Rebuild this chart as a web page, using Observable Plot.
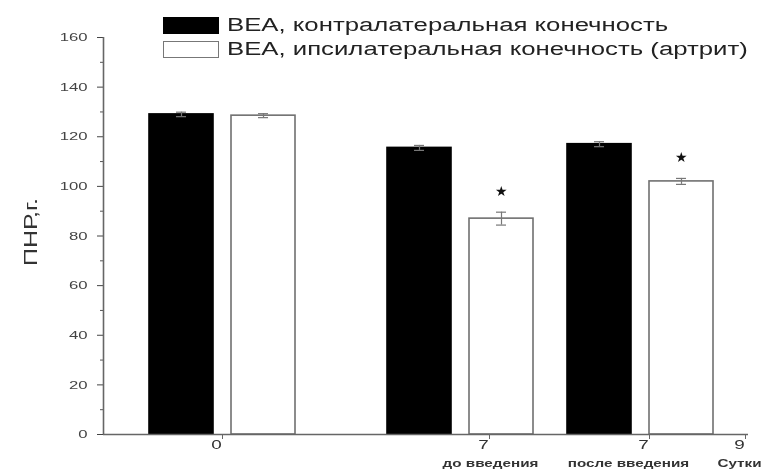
<!DOCTYPE html>
<html>
<head>
<meta charset="utf-8">
<script src="https://cdn.jsdelivr.net/npm/d3@7"></script>
<script src="https://cdn.jsdelivr.net/npm/@observablehq/plot@0.6"></script>
<style>
  html, body { margin: 0; padding: 0; background: #fff; }
  #wrap { position: relative; width: 764px; height: 472px; font-family: "Liberation Sans", Arial, sans-serif; filter: blur(0.35px); }
  #legend { position: absolute; left: 163px; top: 13px; font-size: 18px; color: #222; line-height: 24px; }
  #legend .row { display: flex; align-items: center; white-space: nowrap; height: 24px; }
  #legend .sw { width: 56px; height: 17px; margin-right: 8px; box-sizing: border-box; flex: none; }
  #legend span { display: inline-block; transform: scaleX(1.43); transform-origin: left center; }
  svg { font-family: "Liberation Sans", Arial, sans-serif; }
</style>
</head>
<body>
<div id="wrap">
  <div id="chart"></div>
  <div id="legend"></div>
</div>
<script>
// Series: paw withdrawal threshold (ПНР, g) by time point
const groups = ["0", "7 до введения", "7 после введения"];
const series = ["BEA, контралатеральная конечность", "BEA, ипсилатеральная конечность (артрит)"];
const contra = [129, 115.5, 117];
const contraErr = [0.9, 1, 1];
const ipsi = [128.5, 87, 102];
const ipsiErr = [0.8, 2.6, 1.2];
const significant = [false, true, true];

// x-axis tick labels and the captions printed under them
const tickLabels = ["0", "7", "7", "9"];
const subLabels = ["до введения", "после введения", "Сутки"];
const yLabel = "ПНР,г.";

// layout of the abscissa (axis units)
const groupAt = [1.19, 3.57, 5.37];
const tickAt = [1.19, 3.86, 5.46, 6.42];
const subAt = [3.87, 5.25, 6.36];
const barHalf = 0.32, barOffset = 0.41, capHalf = 0.05;

const bars = [];
groups.forEach((g, i) => {
  bars.push({group: g, series: series[0], x: groupAt[i] - barOffset, value: contra[i], err: contraErr[i], sig: false});
  bars.push({group: g, series: series[1], x: groupAt[i] + barOffset, value: ipsi[i], err: ipsiErr[i], sig: significant[i]});
});
const ticks = tickLabels.map((t, i) => ({x: tickAt[i], label: t}));
const subs = subLabels.map((t, i) => ({x: subAt[i], label: t}));

const chart = Plot.plot({
  width: 764,
  height: 472,
  marginLeft: 103,
  marginRight: 16,
  marginTop: 37,
  marginBottom: 38,
  x: {domain: [0, 6.45], axis: null},
  y: {domain: [0, 160], axis: null},
  marks: [
    // bars
    Plot.rectY(bars, {
      x1: d => d.x - barHalf, x2: d => d.x + barHalf, y: "value",
      fill: d => d.series === series[0] ? "#000" : "#fff",
      stroke: d => d.series === series[0] ? "#000" : "#707070",
      strokeWidth: 1.6
    }),
    // error bars
    Plot.ruleX(bars, {x: "x", y1: d => d.value - d.err, y2: d => d.value + d.err, stroke: "#777", strokeWidth: 1.2}),
    Plot.ruleY(bars, {x1: d => d.x - capHalf, x2: d => d.x + capHalf, y: d => d.value + d.err, stroke: "#777", strokeWidth: 1.2}),
    Plot.ruleY(bars, {x1: d => d.x - capHalf, x2: d => d.x + capHalf, y: d => d.value - d.err, stroke: "#777", strokeWidth: 1.2}),
    // significance stars
    Plot.text(bars.filter(d => d.sig), {x: "x", y: d => d.value + d.err, text: () => "★", dy: -21, fontSize: 14, fill: "#111"}),
    // y axis: major ticks with labels, minor ticks between
    Plot.axisY({ticks: d3.range(0, 161, 20), tickSize: 6, tickPadding: 10, fontSize: 11.5, color: "#444", label: null}),
    Plot.axisY({ticks: d3.range(10, 161, 20), tickSize: 3, tickFormat: () => "", label: null, stroke: "#555"}),
    Plot.ruleX([0], {stroke: "#666", strokeWidth: 1.6}),
    Plot.ruleY([0], {stroke: "#666", strokeWidth: 1.6}),
    Plot.text([yLabel], {frameAnchor: "left", textAnchor: "middle", rotate: -90, dx: -73, dy: -4, fontSize: 19, fill: "#333"}),
    // x axis ticks and labels
    Plot.axisX({ticks: tickAt, tickSize: 5, tickFormat: () => "", label: null, stroke: "#666"}),
    Plot.text(ticks, {x: "x", y: 0, text: "label", dy: 10, dx: -6, fontSize: 13, fill: "#333"}),
    Plot.text(subs, {x: "x", y: 0, text: "label", dy: 29, fontSize: 10.5, fontWeight: "bold", fill: "#333"})
  ]
});
document.getElementById("chart").append(chart);

// wide-set lettering: stretch glyphs horizontally (the rotated axis title along its length),
// then shift each label so that it keeps its anchor point
chart.querySelectorAll("text").forEach(t => {
  const s = t.textContent;
  if (!s || s === "★") return;
  const w = t.getComputedTextLength();
  if (!w) return;
  const b0 = t.getBBox();
  const anchor = getComputedStyle(t).textAnchor;
  const len = s === yLabel ? 68 : w * 1.45;
  t.setAttribute("textLength", len.toFixed(1));
  t.setAttribute("lengthAdjust", "spacingAndGlyphs");
  const b1 = t.getBBox();
  const ref0 = anchor === "end" ? b0.x + b0.width : anchor === "middle" ? b0.x + b0.width / 2 : b0.x;
  const ref1 = anchor === "end" ? b1.x + b1.width : anchor === "middle" ? b1.x + b1.width / 2 : b1.x;
  const shift = ref0 - ref1;
  if (Math.abs(shift) > 0.1) t.setAttribute("dx", shift.toFixed(1));
});

// legend overlaid at the top of the figure
const legend = document.getElementById("legend");
series.forEach((s, i) => {
  const row = document.createElement("div");
  row.className = "row";
  const sw = document.createElement("div");
  sw.className = "sw";
  sw.style.background = i === 0 ? "#000" : "#fff";
  sw.style.border = i === 0 ? "none" : "1.6px solid #777";
  const label = document.createElement("span");
  label.textContent = s;
  row.append(sw, label);
  legend.append(row);
});
</script>
</body>
</html>
